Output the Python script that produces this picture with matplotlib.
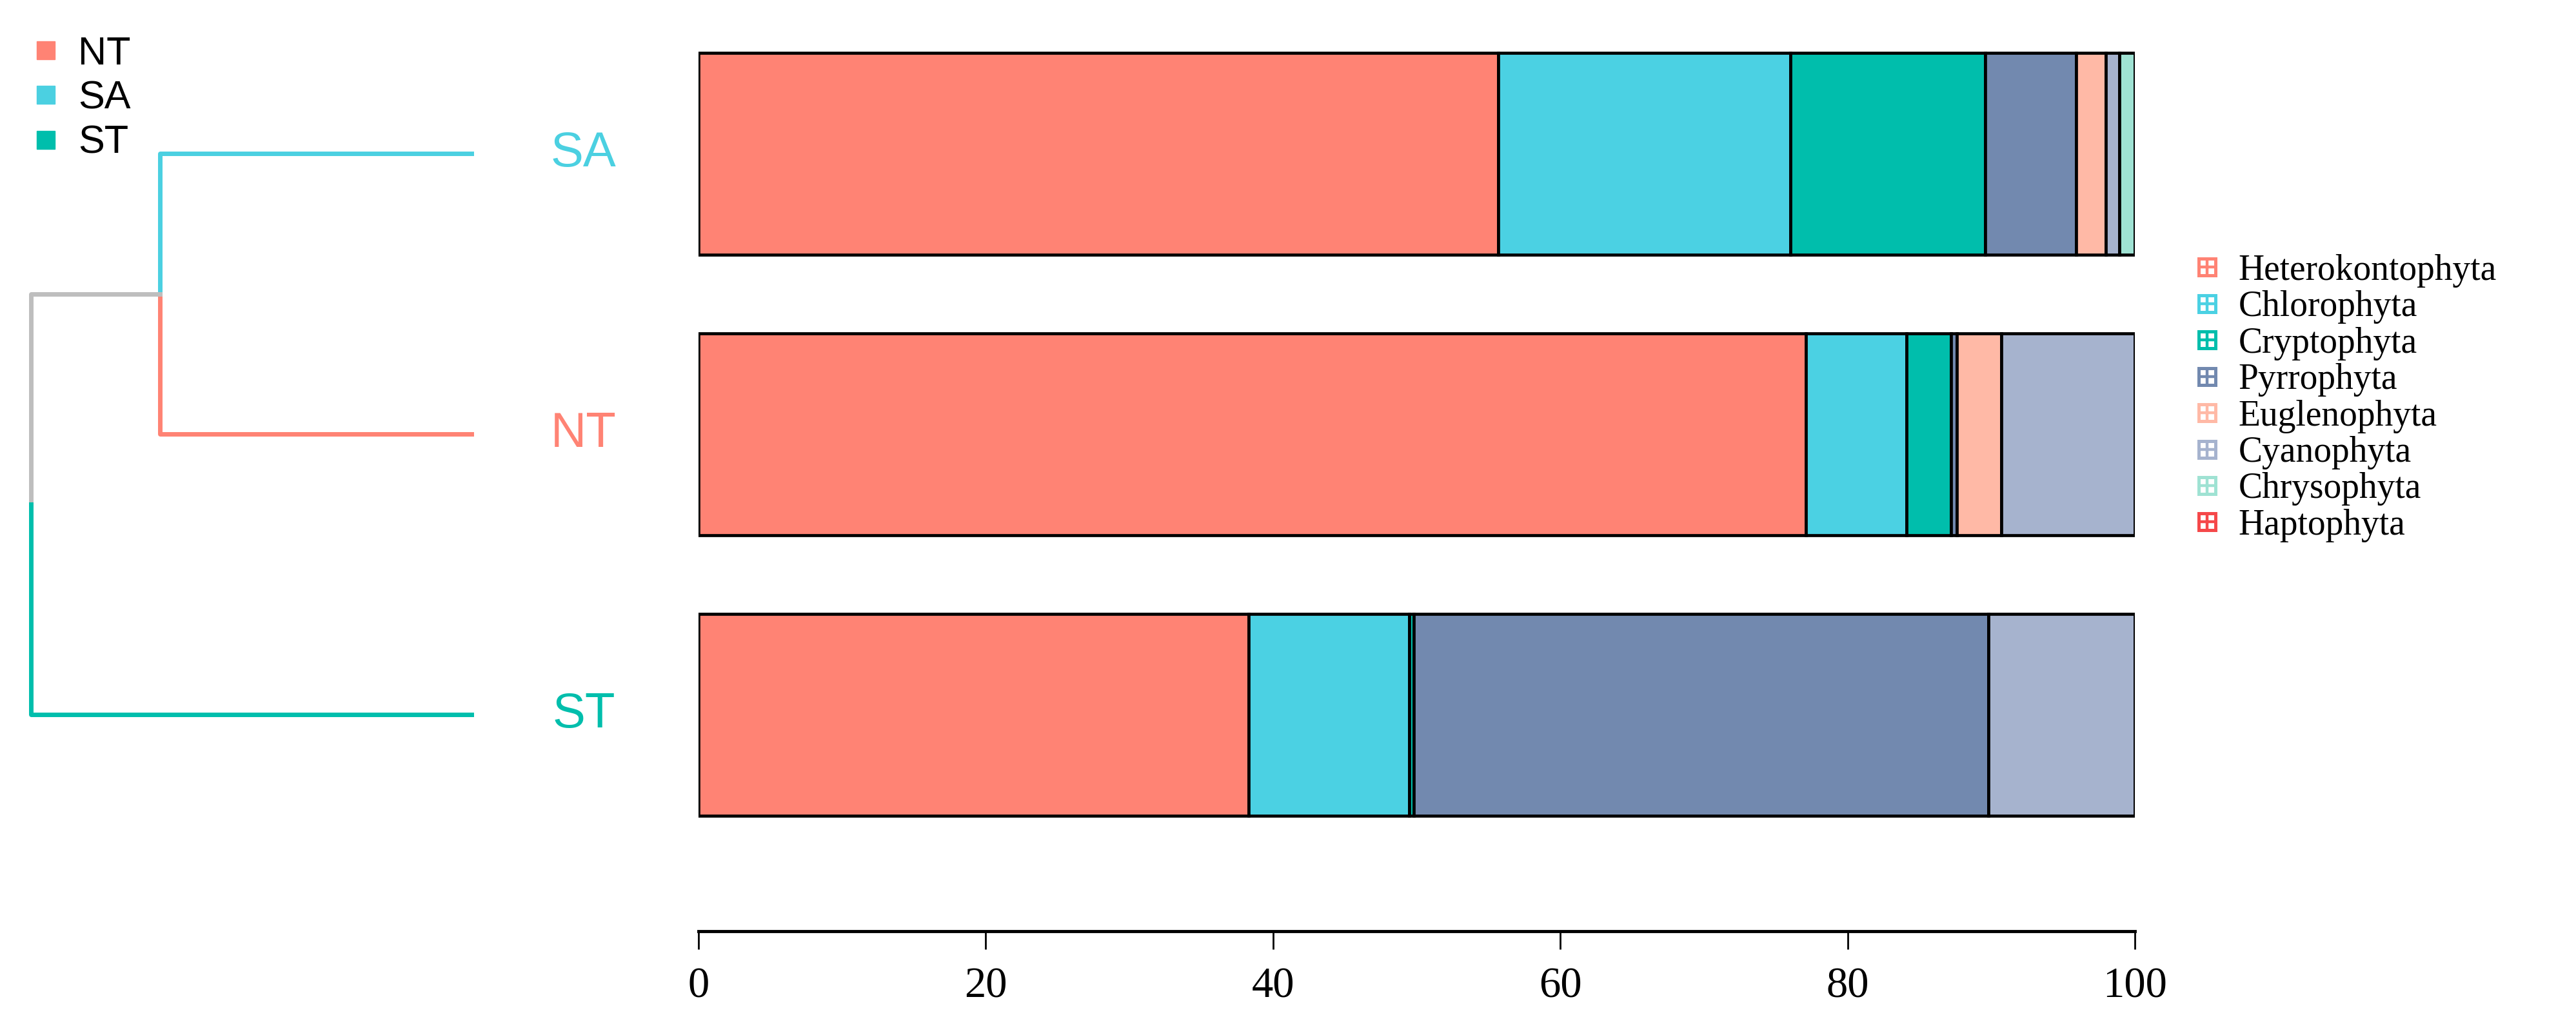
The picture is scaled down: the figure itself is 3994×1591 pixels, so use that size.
import matplotlib
matplotlib.use("Agg")
import matplotlib.pyplot as plt
import numpy as np
from matplotlib.lines import Line2D
from matplotlib.legend_handler import HandlerTuple
from matplotlib.transforms import blended_transform_factory

# samples, top to bottom in the chart
sites = ["SA", "NT", "ST"]
site_colors = {"NT": "#FF8374", "SA": "#4BD0E1", "ST": "#00BEAC"}

phyla = ["Heterokontophyta", "Chlorophyta", "Cryptophyta", "Pyrrophyta",
         "Euglenophyta", "Cyanophyta", "Chrysophyta", "Haptophyta"]
phyla_colors = ["#FF8374", "#4BD1E3", "#00BEAC", "#7289AF",
                "#FFB9A6", "#A6B3CE", "#9FE2D3", "#F5484A"]

# relative abundance (%) per site: SA, NT, ST
heterokontophyta = [55.7, 77.1, 38.3]
chlorophyta = [20.3, 7.0, 11.2]
cryptophyta = [13.6, 3.1, 0.3]
pyrrophyta = [6.3, 0.4, 40.0]
euglenophyta = [2.1, 3.1, 0.0]
cyanophyta = [0.9, 9.3, 10.2]
chrysophyta = [1.1, 0.0, 0.0]
haptophyta = [0.0, 0.0, 0.0]

# dendrogram: SA+NT merge height, root height
merge_sa_nt = 0.709
merge_root = 1.0

values = [heterokontophyta, chlorophyta, cryptophyta, pyrrophyta,
          euglenophyta, cyanophyta, chrysophyta, haptophyta]

W, H = 3994, 1591
fig = plt.figure(figsize=(W / 100, H / 100), dpi=100)

ypos = np.array([2, 1, 0])  # SA, NT, ST
ylim = (-0.772, 2.5)
bottom = 147 / H
height = 1423 / H

# --- stacked bars ---
ax = fig.add_axes([1083 / W, bottom, 2227 / W, height])
left = np.zeros(len(sites))
for name, vals, col in zip(phyla, values, phyla_colors):
    vals = np.array(vals)
    ax.barh(ypos, vals, left=left, height=0.72, color=col,
            edgecolor="black", linewidth=3.4, label=name)
    left += vals

ax.set_xlim(0, 100)
ax.set_ylim(*ylim)
for s in ["left", "top", "right"]:
    ax.spines[s].set_visible(False)
ax.spines["bottom"].set_linewidth(3.5)
ax.set_yticks([])
ax.set_xticks([0, 20, 40, 60, 80, 100])
ax.tick_params(axis="x", length=20, width=2, pad=20, labelsize=48)
for lab in ax.get_xticklabels():
    lab.set_fontfamily("Liberation Serif")

# --- dendrogram ---
axd = fig.add_axes([0, bottom, 735 / W, height])
axd.set_xlim(merge_root + 48 / 687, 0)
axd.set_ylim(*ylim)
axd.axis("off")
kw = dict(linewidth=5, solid_capstyle="projecting")
sa_y, nt_y, st_y = ypos
mid = (sa_y + nt_y) / 2
root_y = (mid + st_y) / 2
axd.plot([0, merge_sa_nt, merge_sa_nt], [sa_y, sa_y, mid], color=site_colors["SA"], **kw)
axd.plot([0, merge_sa_nt, merge_sa_nt], [nt_y, nt_y, mid], color=site_colors["NT"], **kw)
axd.plot([merge_sa_nt, merge_root, merge_root], [mid, mid, root_y], color="#BEBEBE", **kw)
axd.plot([0, merge_root, merge_root], [st_y, st_y, root_y], color=site_colors["ST"], **kw)

tr = blended_transform_factory(fig.transFigure, axd.transData)
for s, y in zip(sites, ypos):
    axd.text(905 / W, y, s, transform=tr, ha="center", va="center",
             fontsize=55, color=site_colors[s], family="Liberation Sans",
             clip_on=False)

# --- site legend (top left) ---
site_order = ["NT", "SA", "ST"]
h1 = [Line2D([], [], linestyle="none", marker="s", markersize=20,
             markerfacecolor=site_colors[s], markeredgecolor=site_colors[s])
      for s in site_order]
fig.legend(h1, site_order, loc="upper left", bbox_to_anchor=(16 / W, 1 - 25 / H),
           frameon=False, borderpad=0, handlelength=0.8, handletextpad=0.42,
           labelspacing=0.2, prop={"family": "Liberation Sans", "size": 44})

# --- phylum legend (right) ---
h2 = []
for col in phyla_colors:
    sq = Line2D([], [], linestyle="none", marker="s", markersize=19,
                markerfacecolor="white", markeredgecolor=col, markeredgewidth=3.6)
    cr = Line2D([], [], linestyle="none", marker="+", markersize=19,
                markeredgecolor=col, markeredgewidth=3.2)
    h2.append((sq, cr))
fig.legend(h2, phyla, loc="upper left", bbox_to_anchor=(3372 / W, 1 - 366 / H),
           frameon=False, borderpad=0, handlelength=0.8, handletextpad=0.47,
           labelspacing=0.08, handler_map={tuple: HandlerTuple(ndivide=1)},
           prop={"family": "Liberation Serif", "size": 40})

fig.savefig("out.png", dpi=100)
